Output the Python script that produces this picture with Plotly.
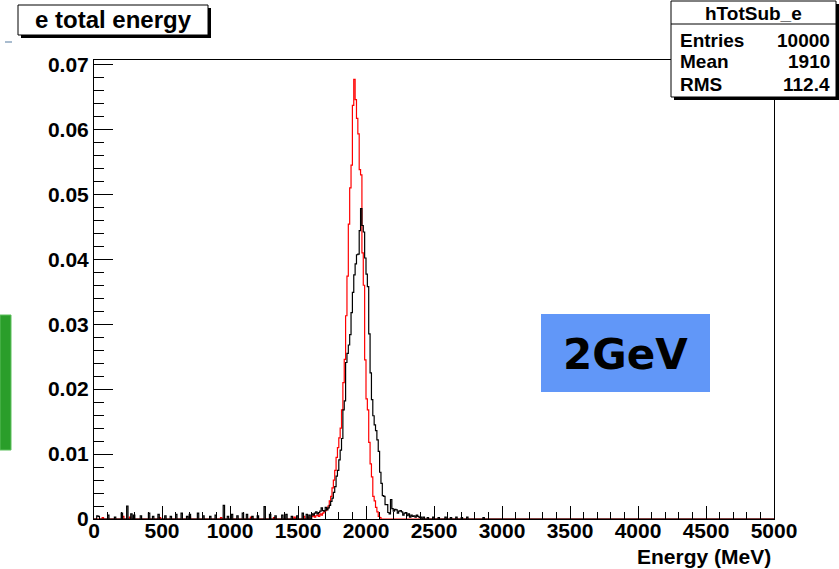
import plotly.graph_objects as go

# ---------------- data ----------------
bin_width = 10
x_min, x_max = 0, 5000

# black histogram, consecutive 10-MeV bins starting at 1600 MeV
black_peak_start = 1600
black_peak = [0.0008, 0.0006, 0.0009, 0.0011, 0.0008, 0.0010, 0.0012, 0.0017, 0.0013, 0.0012,
              0.0018, 0.0014, 0.0017, 0.0021, 0.0027, 0.0032, 0.0041, 0.0050, 0.0066, 0.0075,
              0.0091, 0.0106, 0.0124, 0.0168, 0.0182, 0.0241, 0.0255, 0.0268, 0.0284, 0.0318,
              0.0349, 0.0376, 0.0393, 0.0407, 0.0408, 0.0444, 0.0478, 0.0452, 0.0442, 0.0402,
              0.0377, 0.0358, 0.0285, 0.0225, 0.0184, 0.0159, 0.0145, 0.0136, 0.0122, 0.0104,
              0.0072, 0.0055, 0.0036, 0.0035, 0.0022, 0.0022, 0.0010, 0.0008, 0.0030, 0.0016,
              0.0012, 0.0015, 0.0014, 0.0009, 0.0012, 0.0013, 0.0011, 0.0006, 0.0009, 0.0010,
              0.0005, 0.0008, 0.0003, 0.0006, 0.0004, 0.0005, 0.0003, 0.0006, 0.0004, 0.0002,
              0.0003]
# black sparse tail bins (bin start in MeV, content)
black_tail_E = [20, 30, 100, 150, 200, 240, 270, 290, 340, 400, 430, 470, 520, 560, 600, 640,
                680, 700, 760, 800, 850, 890, 950, 980, 1010, 1050, 1090, 1120, 1160, 1200,
                1250, 1290, 1330, 1380, 1410, 1450, 1490, 1530, 1560, 1580,
                2420, 2450, 2490, 2530, 2580, 2620, 2660, 2700, 2740, 2860]
black_tail_v = [0.0005, 0.0004, 0.0006, 0.0003, 0.0009, 0.0020, 0.0008, 0.0006, 0.0005, 0.0009,
                0.0004, 0.0007, 0.0005, 0.0004, 0.0007, 0.0009, 0.0004, 0.0007, 0.0009, 0.0005,
                0.0004, 0.0006, 0.0021, 0.0004, 0.0007, 0.0005, 0.0009, 0.0007, 0.0004, 0.0005,
                0.0019, 0.0007, 0.0005, 0.0006, 0.0007, 0.0004, 0.0005, 0.0009, 0.0007, 0.0006,
                0.0003, 0.0002, 0.0003, 0.0002, 0.0003, 0.0002, 0.0003, 0.0002, 0.0003, 0.0002]

# red histogram, consecutive 10-MeV bins starting at 1600 MeV
red_peak_start = 1600
red_peak = [0.0004, 0.0007, 0.0003, 0.0005, 0.0006, 0.0004, 0.0008, 0.0006, 0.0009, 0.0011,
            0.0013, 0.0016, 0.0020, 0.0028, 0.0035, 0.0048, 0.0060, 0.0075, 0.0095, 0.0110,
            0.0125, 0.0140, 0.0168, 0.0210, 0.0246, 0.0313, 0.0374, 0.0454, 0.0510, 0.0545,
            0.0637, 0.0677, 0.0646, 0.0617, 0.0593, 0.0538, 0.0530, 0.0410, 0.0360, 0.0245,
            0.0185, 0.0168, 0.0118, 0.0085, 0.0065, 0.0035, 0.0028, 0.0018, 0.0011, 0.0004,
            0.0002, 0.0]
red_tail_E = [60, 210, 260, 480, 700, 930, 1150, 1320, 1470, 1540, 1570]
red_tail_v = [0.0002, 0.0004, 0.0003, 0.0002, 0.0003, 0.0002, 0.0003, 0.0002, 0.0003, 0.0004, 0.0003]

x_ticks = [0, 500, 1000, 1500, 2000, 2500, 3000, 3500, 4000, 4500, 5000]
y_ticks = [0, 0.01, 0.02, 0.03, 0.04, 0.05, 0.06, 0.07]
y_tick_text = ["0", "0.01", "0.02", "0.03", "0.04", "0.05", "0.06", "0.07"]

stats_name = "hTotSub_e"
stats_rows = [("Entries", "10000"), ("Mean", "1910"), ("RMS", "112.4")]
title_text = "e total energy"
x_title = "Energy (MeV)"
badge_text = "2GeV"

# ---------------- build histograms ----------------
nb = (x_max - x_min) // bin_width
edges = [x_min + i * bin_width for i in range(nb + 1)]


def build(peak_start, peak, tail_E, tail_v):
    vals = [0.0] * nb
    for E, v in zip(tail_E, tail_v):
        vals[(E - x_min) // bin_width] = v
    i0 = (peak_start - x_min) // bin_width
    for k, v in enumerate(peak):
        vals[i0 + k] = v
    return vals + [vals[-1]]


black_vals = build(black_peak_start, black_peak, black_tail_E, black_tail_v)
red_vals = build(red_peak_start, red_peak, red_tail_E, red_tail_v)

# ---------------- figure ----------------
W, H = 839, 569
L, R, T, B = 94, 774, 60, 519
fig = go.Figure()
fig.add_trace(go.Scatter(x=edges, y=red_vals, mode="lines", line_shape="hv",
                         line=dict(color="#ff0000", width=1.2), hoverinfo="skip"))
fig.add_trace(go.Scatter(x=edges, y=black_vals, mode="lines", line_shape="hv",
                         line=dict(color="#000000", width=1.2), hoverinfo="skip"))

FONT = "Liberation Sans, Arial, Helvetica, sans-serif"
y_top = 0.07 * (B - T) / (B - 64.5)

fig.update_layout(
    width=W, height=H, showlegend=False,
    paper_bgcolor="white", plot_bgcolor="white",
    margin=dict(l=L, r=W - R, t=T, b=H - B, pad=0),
    xaxis=dict(range=[x_min, x_max], tickvals=x_ticks, ticks="inside", ticklen=13,
               tickcolor="black", tickwidth=1, showgrid=False, zeroline=False,
               showline=True, linecolor="black", linewidth=1, mirror=True,
               ticklabelstandoff=-7,
               tickfont=dict(family=FONT, size=21, color="black", weight="bold"),
               minor=dict(dtick=100, ticks="inside", ticklen=7, tickcolor="black", showgrid=False)),
    yaxis=dict(range=[0, y_top], tickvals=y_ticks, ticktext=y_tick_text,
               ticks="inside", ticklen=19, tickcolor="black", tickwidth=1, showgrid=False,
               zeroline=False, showline=True, linecolor="black", linewidth=1, mirror=True,
               tickfont=dict(family=FONT, size=21, color="black", weight="bold"),
               minor=dict(dtick=0.002, ticks="inside", ticklen=10, tickcolor="black", showgrid=False)),
)


def px(xp):
    return (xp - L) / (R - L)


def py(yp):
    return (B - yp) / (B - T)


shapes = []
ann = []


def rect(x0, y0, x1, y1, fill, line_color=None, lw=0):
    shapes.append(dict(type="rect", xref="paper", yref="paper", layer="above",
                       x0=px(x0), x1=px(x1), y0=py(y1), y1=py(y0), fillcolor=fill,
                       line=dict(color=line_color or fill, width=lw)))


def text(x, y, s, size, anchor="center", family=FONT, color="black"):
    ann.append(dict(xref="paper", yref="paper", x=px(x), y=py(y), text=s, showarrow=False,
                    xanchor=anchor, yanchor="middle",
                    font=dict(family=family, size=size, color=color, weight="bold")))


# title box with shadow
rect(21, 8, 211, 38, "black")
rect(18, 5, 208, 35, "white", "black", 1)
text(113, 20, title_text, 24)
# small dash at left
rect(5, 41, 12, 43, "#a9bccf")

# stats box with shadow
rect(674, 4, 839, 100, "black")
rect(671, 1, 836, 97, "white", "black", 1)
shapes.append(dict(type="line", xref="paper", yref="paper", layer="above",
                   x0=px(671), x1=px(836), y0=py(24), y1=py(24), line=dict(color="black", width=1)))
text(753, 13, stats_name, 19)
for i, (k, v) in enumerate(stats_rows):
    yy = 40 + 22 * i
    text(678, yy, k, 19, anchor="left")
    text(832, yy, v, 19, anchor="right")

# green bar on the left
rect(0, 315, 11, 450, "#2a9e2a", "#5cc05c", 1)

# blue 2GeV badge
rect(541, 314, 710, 392, "#6197f8")
text(625, 354, badge_text, 42, family="DejaVu Sans, sans-serif")

# x-axis title
text(773, 556, x_title, 21, anchor="right")

fig.update_layout(shapes=shapes, annotations=ann)
fig.write_html("out.html")
